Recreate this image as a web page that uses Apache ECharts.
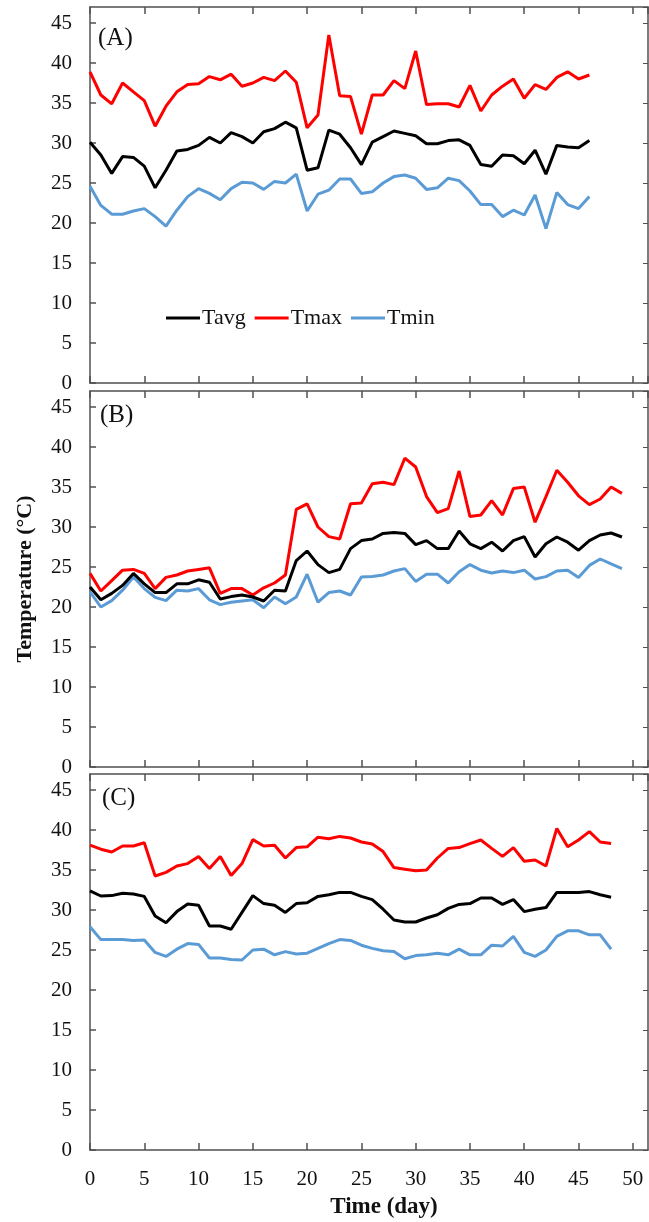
<!DOCTYPE html>
<html>
<head>
<meta charset="utf-8">
<script src="https://cdn.jsdelivr.net/npm/echarts@6/dist/echarts.min.js"></script>
<style>
  html, body {margin: 0; padding: 0; background: #fff;}
  #chart {width: 649px; height: 1222px;}
</style>
</head>
<body>
<div id="chart"></div>
<script>
// daily temperatures (°C), index = day
const panelLabels = ['(A)', '(B)', '(C)'];
const seriesNames = ['Tavg', 'Tmax', 'Tmin'];
const yTicks = [0, 5, 10, 15, 20, 25, 30, 35, 40, 45];
const xTicks = [0, 5, 10, 15, 20, 25, 30, 35, 40, 45, 50];

const aTavg = [30.1, 28.5, 26.2, 28.3, 28.2, 27.1, 24.4, 26.6, 29.0, 29.2,
    29.7, 30.7, 30.0, 31.3, 30.8, 30.0, 31.4, 31.8, 32.6, 31.9,
    26.6, 26.9, 31.6, 31.1, 29.4, 27.3, 30.1, 30.8, 31.5, 31.2,
    30.9, 29.9, 29.9, 30.3, 30.4, 29.7, 27.3, 27.1, 28.5, 28.4,
    27.4, 29.1, 26.1, 29.7, 29.5, 29.4, 30.3];
const aTmax = [38.9, 36.0, 34.9, 37.5, 36.4, 35.3, 32.1, 34.6, 36.4, 37.3,
    37.4, 38.3, 37.9, 38.6, 37.1, 37.5, 38.2, 37.8, 39.0, 37.6,
    31.9, 33.5, 43.5, 35.9, 35.8, 31.1, 36.0, 36.0, 37.8, 36.8,
    41.5, 34.8, 34.9, 34.9, 34.5, 37.2, 34.0, 36.0, 37.1, 38.0,
    35.6, 37.3, 36.7, 38.2, 38.9, 38.0, 38.5];
const aTmin = [24.6, 22.2, 21.1, 21.1, 21.5, 21.8, 20.8, 19.6, 21.6, 23.3,
    24.3, 23.7, 22.9, 24.3, 25.1, 25.0, 24.2, 25.2, 25.0, 26.1,
    21.5, 23.6, 24.1, 25.5, 25.5, 23.7, 23.9, 25.0, 25.8, 26.0,
    25.6, 24.2, 24.4, 25.6, 25.3, 24.0, 22.3, 22.3, 20.8, 21.6,
    21.0, 23.5, 19.3, 23.8, 22.3, 21.8, 23.3];

const bTavg = [22.5, 20.9, 21.7, 22.7, 24.2, 22.9, 21.8, 21.8, 22.9, 22.9,
    23.4, 23.1, 21.0, 21.3, 21.5, 21.25, 20.75, 22.1, 22.0, 25.8,
    27.0, 25.3, 24.3, 24.7, 27.3, 28.3, 28.5, 29.2, 29.3, 29.2,
    27.8, 28.3, 27.3, 27.3, 29.5, 27.9, 27.3, 28.1, 27.0, 28.3,
    28.8, 26.25, 27.9, 28.75, 28.1, 27.1, 28.3, 29.0, 29.25, 28.75];
const bTmax = [24.2, 22.0, 23.3, 24.6, 24.7, 24.2, 22.3, 23.7, 24.0, 24.5,
    24.7, 24.9, 21.7, 22.3, 22.3, 21.5, 22.4, 23.0, 24.0, 32.2,
    32.9, 30.0, 28.8, 28.5, 32.9, 33.0, 35.4, 35.6, 35.3, 38.6,
    37.5, 33.8, 31.8, 32.3, 37.0, 31.3, 31.5, 33.3, 31.5, 34.8,
    35.0, 30.6, 33.8, 37.1, 35.6, 33.9, 32.8, 33.5, 35.0, 34.2];
const bTmin = [21.9, 20.0, 20.8, 22.1, 23.75, 22.3, 21.2, 20.8, 22.1, 22.0,
    22.3, 20.9, 20.3, 20.6, 20.75, 20.9, 19.9, 21.25, 20.4, 21.25,
    24.1, 20.6, 21.8, 22.0, 21.5, 23.75, 23.8, 24.0, 24.5, 24.8,
    23.2, 24.1, 24.1, 23.0, 24.4, 25.3, 24.6, 24.25, 24.5, 24.3,
    24.6, 23.5, 23.8, 24.5, 24.6, 23.7, 25.2, 26.0, 25.4, 24.8];

const cTavg = [32.4, 31.75, 31.8, 32.1, 32.0, 31.7, 29.25, 28.4, 29.8, 30.75,
    30.6, 28.0, 28.0, 27.6, 29.7, 31.8, 30.8, 30.6, 29.7, 30.8,
    30.9, 31.7, 31.9, 32.2, 32.2, 31.7, 31.3, 30.1, 28.75, 28.5,
    28.5, 29.0, 29.4, 30.2, 30.7, 30.8, 31.5, 31.5, 30.7, 31.3,
    29.8, 30.1, 30.3, 32.2, 32.2, 32.2, 32.3, 31.9, 31.6];
const cTmax = [38.1, 37.6, 37.25, 38.0, 38.0, 38.4, 34.25, 34.7, 35.5, 35.8,
    36.7, 35.2, 36.7, 34.3, 35.8, 38.8, 38.0, 38.1, 36.5, 37.8,
    37.9, 39.1, 38.9, 39.2, 39.0, 38.5, 38.25, 37.3, 35.3, 35.1,
    34.9, 35.0, 36.5, 37.7, 37.8, 38.3, 38.75, 37.7, 36.7, 37.8,
    36.1, 36.25, 35.5, 40.2, 37.9, 38.75, 39.8, 38.5, 38.3];
const cTmin = [27.9, 26.3, 26.3, 26.3, 26.2, 26.25, 24.7, 24.2, 25.1, 25.8,
    25.7, 24.0, 24.0, 23.8, 23.75, 25.0, 25.1, 24.4, 24.8, 24.5,
    24.6, 25.2, 25.8, 26.3, 26.2, 25.6, 25.2, 24.9, 24.8, 23.9,
    24.3, 24.4, 24.6, 24.4, 25.1, 24.4, 24.4, 25.6, 25.5, 26.7,
    24.7, 24.2, 25.0, 26.7, 27.4, 27.4, 26.9, 26.9, 25.1];

const panels = [
    [aTavg, aTmax, aTmin],
    [bTavg, bTmax, bTmin],
    [cTavg, cTmax, cTmin]
];

const colors = ['#000000', '#ff0000', '#5b9bd5'];
const font = "'Liberation Serif', 'Times New Roman', serif";
const axisColor = '#505050';
const gridTops = [7, 391, 774];
const gridHeight = 376;
const labelPos = [[93, 21], [95, 398], [97, 781]];

const chart = echarts.init(document.getElementById('chart'));

let grid = [], xAxis = [], yAxis = [], series = [], title = [];

const lineStyle = {color: axisColor, width: 1.5};

panels.forEach((panel, p) => {
    grid.push({left: 90, right: 1, top: gridTops[p], height: gridHeight});
    // bottom axis (labels only on the last panel)
    xAxis.push({
        type: 'value', gridIndex: p, min: 0, max: 51.4, interval: 5,
        axisLine: {show: true, onZero: false, lineStyle: lineStyle},
        axisTick: {show: true, inside: true, length: 7, lineStyle: lineStyle},
        axisLabel: {
            show: p === 2, showMaxLabel: false, margin: 19,
            fontFamily: font, fontSize: 21, color: '#111',
            formatter: v => xTicks.indexOf(v) >= 0 ? String(v) : ''
        },
        splitLine: {show: false},
        name: p === 2 ? 'Time (day)' : '',
        nameLocation: 'middle', nameGap: 46,
        nameTextStyle: {
            fontFamily: font, fontSize: 23, fontWeight: 'bold', color: '#111',
            padding: [0, 0, 0, 30]
        }
    });
    // top border with inward ticks
    xAxis.push({
        type: 'value', gridIndex: p, position: 'top', min: 0, max: 51.4, interval: 5,
        axisLine: {show: true, onZero: false, lineStyle: lineStyle},
        axisTick: {show: true, inside: true, length: 7, lineStyle: lineStyle},
        axisLabel: {show: false},
        splitLine: {show: false}
    });
    yAxis.push({
        type: 'value', gridIndex: p, min: 0, max: 47, interval: 5,
        axisLine: {show: true, onZero: false, lineStyle: lineStyle},
        axisTick: {show: true, inside: true, length: 6, lineStyle: lineStyle},
        axisLabel: {
            margin: 18, showMaxLabel: false,
            fontFamily: font, fontSize: 21, color: '#111',
            formatter: v => yTicks.indexOf(v) >= 0 ? String(v) : ''
        },
        splitLine: {show: false},
        name: p === 1 ? 'Temperature (°C)' : '',
        nameLocation: 'middle', nameGap: 54,
        nameTextStyle: {fontFamily: font, fontSize: 22, fontWeight: 'bold', color: '#111'}
    });
    yAxis.push({
        type: 'value', gridIndex: p, position: 'right', min: 0, max: 47, interval: 5,
        axisLine: {show: true, onZero: false, lineStyle: lineStyle},
        axisTick: {show: true, inside: true, length: 5, lineStyle: {color: axisColor, width: 1}},
        axisLabel: {show: false},
        splitLine: {show: false}
    });
    title.push({
        text: panelLabels[p], left: labelPos[p][0], top: labelPos[p][1],
        textStyle: {fontFamily: font, fontSize: 25, fontWeight: 'normal', color: '#111'}
    });
    panel.forEach((values, s) => {
        series.push({
            name: seriesNames[s], type: 'line',
            xAxisIndex: p * 2, yAxisIndex: p * 2,
            data: values.map((v, i) => [i, v]),
            symbol: 'none', smooth: false,
            lineStyle: {color: colors[s], width: 3},
            itemStyle: {color: colors[s]},
            z: 3 - s
        });
    });
});

chart.setOption({
    animation: false,
    backgroundColor: '#fff',
    title: title,
    legend: {
        data: seriesNames, left: 161, top: 302, orient: 'horizontal',
        icon: 'rect', itemWidth: 34, itemHeight: 3, itemGap: 9,
        textStyle: {fontFamily: font, fontSize: 22, color: '#111', padding: [0, 0, 0, -3]}
    },
    grid: grid,
    xAxis: xAxis,
    yAxis: yAxis,
    series: series
});
</script>
</body>
</html>
